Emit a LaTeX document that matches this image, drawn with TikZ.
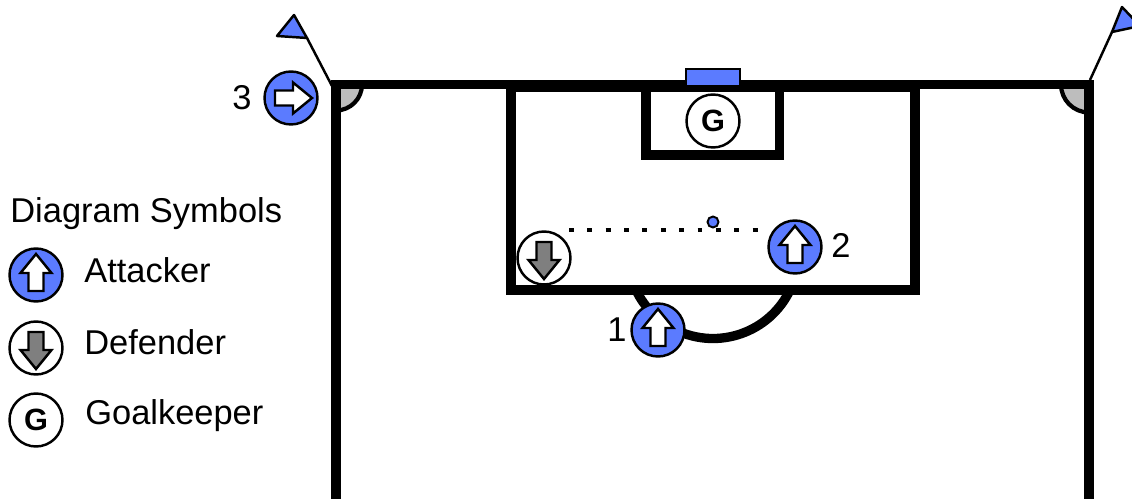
\documentclass[tikz,border=0pt]{standalone}
\usepackage{fontspec}
\setmainfont{Liberation Sans}
\definecolor{teamblue}{HTML}{5B7BFF}
\definecolor{cornergray}{HTML}{BDBDBD}
\definecolor{defgray}{HTML}{7F7F7F}
\tikzset{
  pitch/.style={draw,line width=5.3pt,miter limit=10},
  thin line/.style={draw,line width=1.4pt},
  attacker/.style={circle,thin line,fill=teamblue,minimum size=1.06cm,inner sep=0pt},
  defender/.style={circle,thin line,fill=white,minimum size=1.06cm,inner sep=0pt},
  keeper/.style={circle,thin line,fill=white,minimum size=1.06cm,inner sep=0pt,font=\fontsize{17.5}{17.5}\selectfont\bfseries},
  lab/.style={font=\fontsize{19.6}{22}\selectfont,inner sep=0pt},
  legend/.style={lab,anchor=west},
  playerarrow/.pic={
    \draw[line width=1.4pt,fill=#1,line join=miter] (0,-21) -- (15.5,-2) -- (7.5,-2) -- (7.5,16)
      -- (-7.5,16) -- (-7.5,-2) -- (-15.5,-2) -- cycle;
  }
}
\begin{document}
\begin{tikzpicture}[x=.02cm,y=-.02cm]
  \useasboundingbox (0,0) rectangle (1132,499);
  \fill[white] (0,0) rectangle (1132,499);

  \path (336,84.5) coordinate (cornerl);
  \path (1089,84.5) coordinate (cornerr);
  \path (336,502) coordinate (bottoml);
  \path (1089,502) coordinate (bottomr);

  \filldraw[thin line,line width=2.4pt,fill=cornergray] (cornerl) -- +(26,0) arc[start angle=0,end angle=90,radius=26] -- cycle;
  \filldraw[thin line,line width=2.4pt,fill=cornergray] (cornerr) -- +(-28,0) arc[start angle=180,end angle=90,radius=28] -- cycle;

  \draw[pitch] (bottoml) -- (cornerl) -- (cornerr) -- (bottomr);
  \draw[pitch] (511,87.5) rectangle (915,290);
  \draw[pitch] (646,87.5) rectangle (779.5,155);
  \draw[pitch] (790,290) arc[start angle=25.6,end angle=154.4,radius=85.4];

  \path (307,38) coordinate (flagl);
  \path (1112,32) coordinate (flagr);
  \draw[line width=1.4pt] (332,86) -- (flagl);
  \draw[line width=1.4pt] (1090,80) -- (flagr);
  \filldraw[thin line,fill=teamblue,line join=round] (flagl) -- (294,15) -- (277,36) -- cycle;
  \filldraw[thin line,fill=teamblue,line join=round] (flagr) -- (1122,7) -- (1140,26) -- cycle;

  \filldraw[thin line,line width=1.1pt,fill=teamblue] (686,69) rectangle (740,86);

  \path (713,121) node[keeper] (gk) {G};
  \path (713,222) node[circle,thin line,line width=1.1pt,fill=teamblue,minimum size=.22cm,inner sep=0pt] (ball) {};

  \path (569,230) coordinate (dotsl);
  \path (758,230) coordinate (dotsr);
  \draw[line width=2.8pt,dash pattern=on 2.8pt off 7.65pt] (dotsl) -- (dotsr);

  \path (544,258) node[defender] (def) {};
  \path (def) pic[rotate=180] {playerarrow=defgray};
  \path (658,330) node[attacker] (att1) {};
  \path (att1) pic {playerarrow=white};
  \path (795,247) node[attacker] (att2) {};
  \path (att2) pic {playerarrow=white};
  \path (291,98) node[attacker] (att3) {};
  \path (att3) pic[rotate=-90] {playerarrow=white};

  \path (617,330) node[lab] (n1) {1};
  \path (841,245) node[lab] (n2) {2};
  \path (242,98) node[lab] (n3) {3};

  \path (10,214) node[legend] (legtitle) {Diagram Symbols};
  \path (36,275) node[attacker] (legatt) {};
  \path (legatt) pic {playerarrow=white};
  \path (36,348) node[defender] (legdef) {};
  \path (legdef) pic[rotate=180] {playerarrow=defgray};
  \path (36,420) node[keeper] (leggk) {G};
  \path (84,270) node[legend] (legatttext) {Attacker};
  \path (84,342) node[legend] (legdeftext) {Defender};
  \path (85,416) node[legend] (leggktext) {Goalkeeper};
\end{tikzpicture}
\end{document}
